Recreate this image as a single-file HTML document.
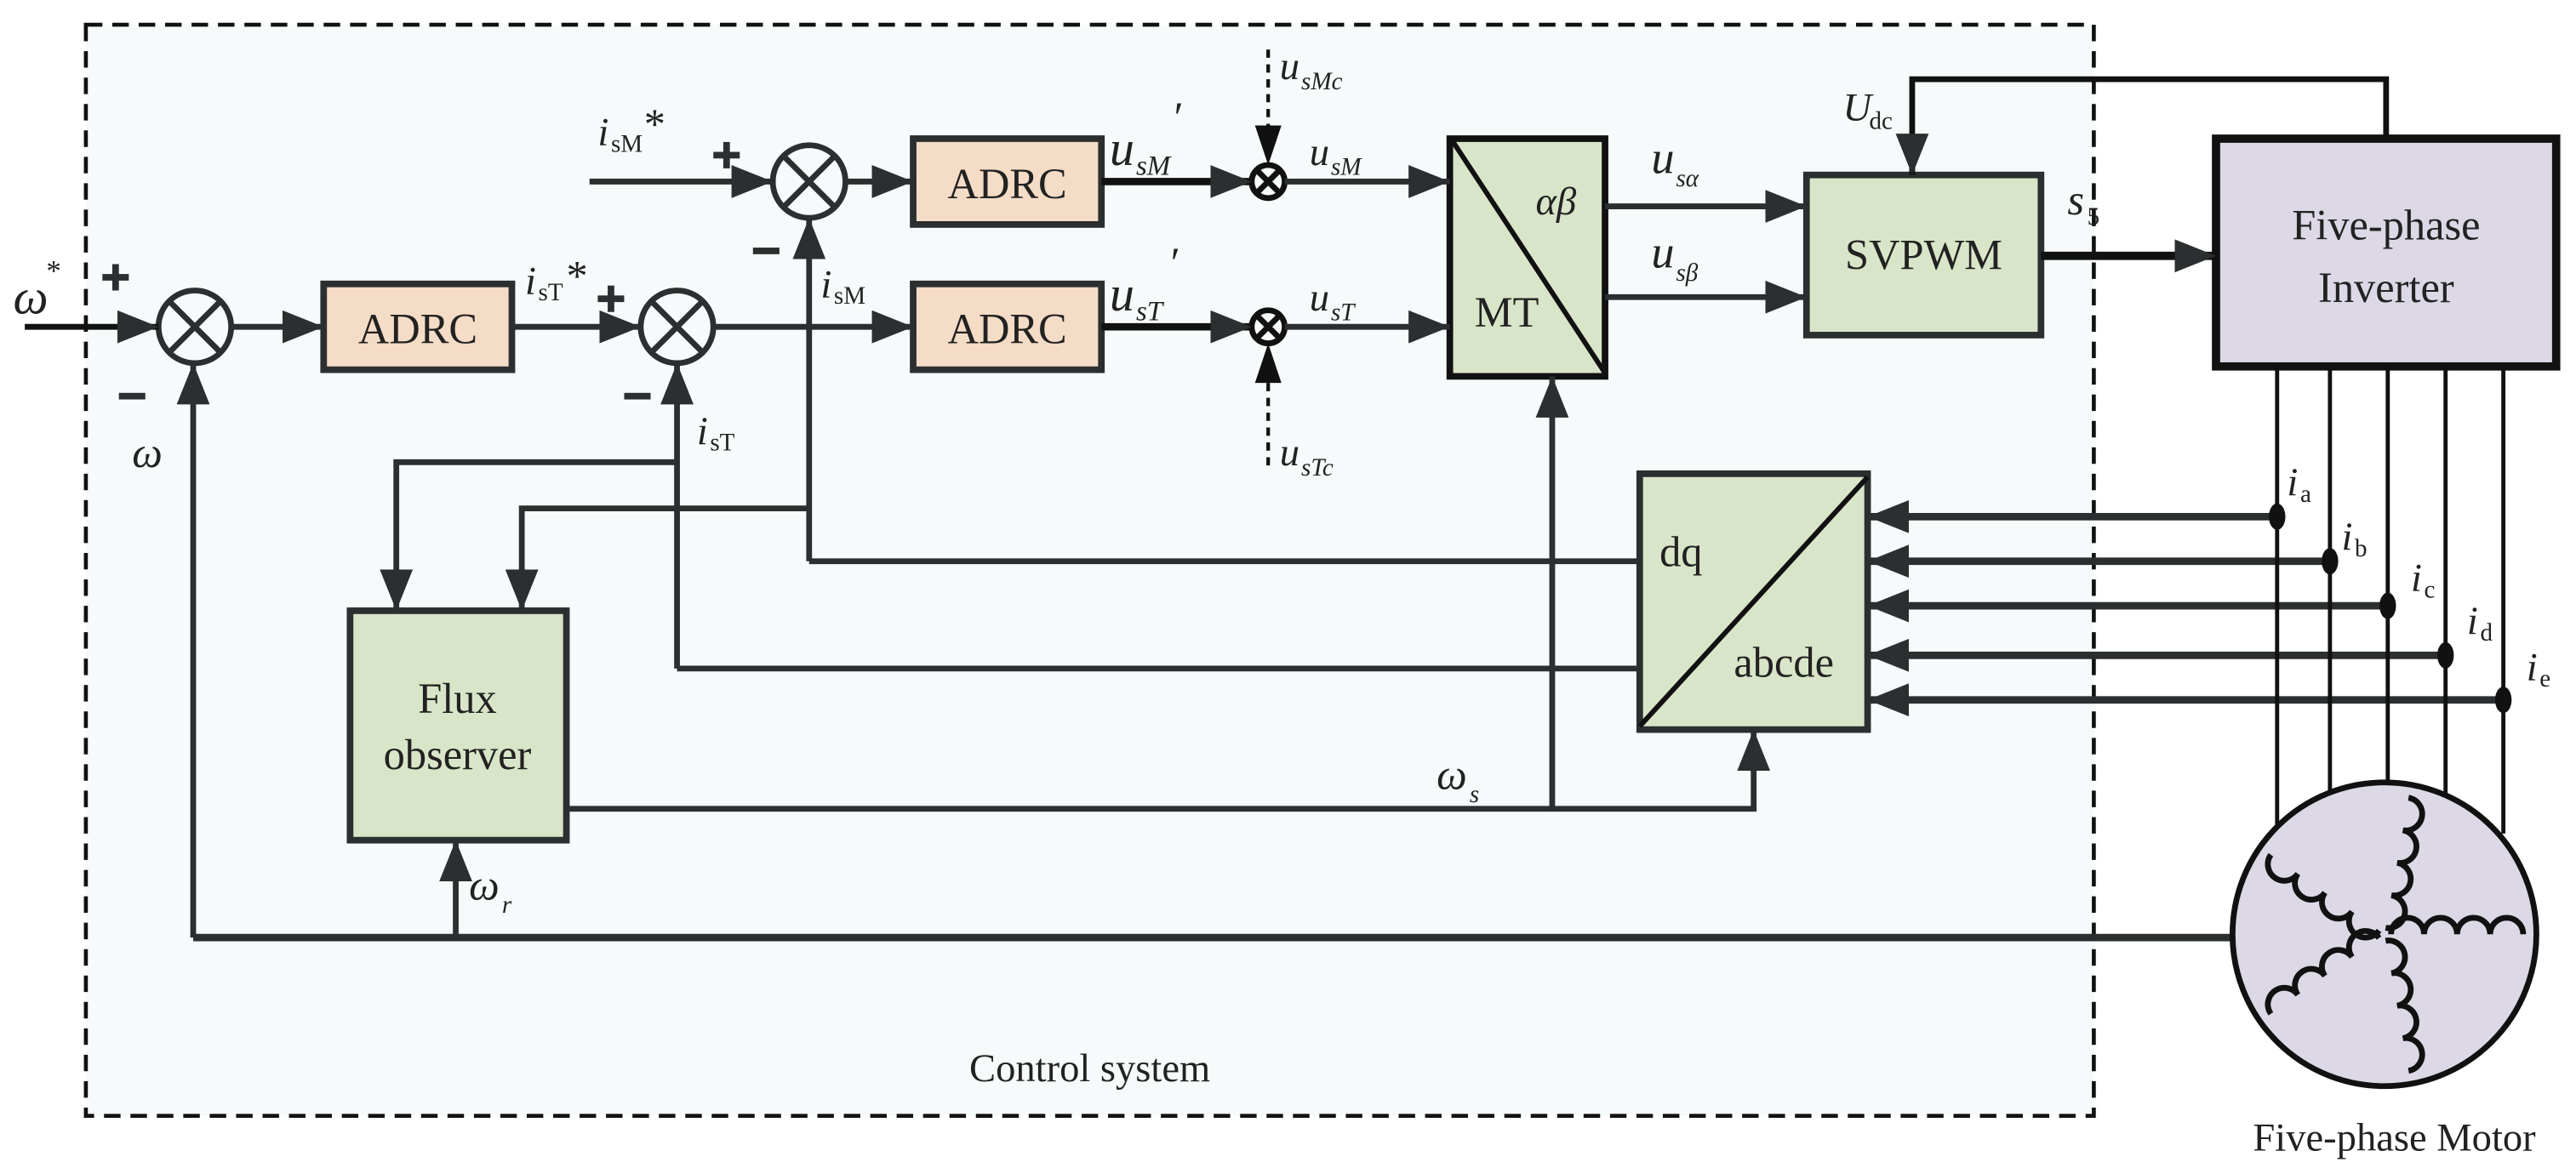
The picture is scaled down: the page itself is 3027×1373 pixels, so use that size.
<!DOCTYPE html>
<html><head><meta charset="utf-8"><style>
html,body{margin:0;padding:0;background:#fff}
svg{display:block}
</style></head><body>
<svg width="3027" height="1373" viewBox="0 0 1560 707.6" preserveAspectRatio="none" xmlns="http://www.w3.org/2000/svg" font-family="'Liberation Serif', 'DejaVu Serif', serif">
<defs>
<marker id="a" viewBox="0 0 20 16" refX="20" refY="8" markerWidth="25" markerHeight="20" markerUnits="userSpaceOnUse" orient="auto"><path d="M0,0L20,8L0,16z" fill="#2b2f30"/></marker>
</defs>
<style>
.l{stroke:#2b2f30;stroke-width:3.5;fill:none}
text{fill:#222;font-family:'Liberation Serif','DejaVu Serif',serif}
.it{font-style:italic}
</style>
<rect x="52" y="15" width="1216" height="661" fill="#f6fafb" stroke="#111" stroke-width="2.4" stroke-dasharray="10,6"/>
<g stroke="#2b2f30" stroke-width="3.5" fill="none">
<circle cx="118" cy="198" r="22"/><path d="M102.5,182.5L133.5,213.5M133.5,182.5L102.5,213.5"/>
<circle cx="410" cy="198" r="22"/><path d="M394.5,182.5L425.5,213.5M425.5,182.5L394.5,213.5"/>
<circle cx="490" cy="110" r="22"/><path d="M474.5,94.5L505.5,125.5M505.5,94.5L474.5,125.5"/>
<circle cx="768" cy="110" r="10" stroke="#111"/><path d="M761,103L775,117M775,103L761,117" stroke="#111"/>
<circle cx="768" cy="198" r="10" stroke="#111"/><path d="M761,191L775,205M775,191L761,205" stroke="#111"/>
</g>
<g stroke="#2b2f30" stroke-width="4">
<rect x="196" y="172" width="114" height="52" fill="#f5dcc6"/>
<rect x="553" y="84" width="114" height="52" fill="#f5dcc6"/>
<rect x="553" y="172" width="114" height="52" fill="#f5dcc6"/>
<rect x="878" y="84" width="94" height="144" fill="#d9e5c8" stroke="#111"/>
<rect x="1094" y="106" width="142" height="97" fill="#d9e5c8"/>
<rect x="212" y="370" width="131" height="139" fill="#d9e5c8"/>
<rect x="993" y="287" width="138" height="155" fill="#d9e5c8"/>
<rect x="1342" y="84" width="206" height="138" fill="#ddd8e6" stroke="#111" stroke-width="5"/>
</g>
<path d="M880,86L972,226M993,440L1131,289" stroke="#111" stroke-width="3"/>
<g class="l">
<path d="M15,198H96" marker-end="url(#a)" stroke="#111"/>
<path d="M140,198H196" marker-end="url(#a)"/>
<path d="M310,198H388" marker-end="url(#a)"/>
<path d="M432,198H553" marker-end="url(#a)"/>
<path d="M357,110H468" marker-end="url(#a)"/>
<path d="M512,110H553" marker-end="url(#a)"/>
<path d="M667,110H758" marker-end="url(#a)" stroke="#111" stroke-width="4.5"/>
<path d="M667,198H758" marker-end="url(#a)" stroke="#111" stroke-width="4.5"/>
<path d="M778,110H878" marker-end="url(#a)"/>
<path d="M778,198H878" marker-end="url(#a)"/>
<path d="M972,125H1094" marker-end="url(#a)"/>
<path d="M972,180H1094" marker-end="url(#a)"/>
<path d="M1236,155H1342" marker-end="url(#a)" stroke-width="5" stroke="#111"/>
<path d="M1445,84V48H1158V106" marker-end="url(#a)" stroke="#111"/>
<path d="M117,568V220" marker-end="url(#a)"/>
<path d="M1358,568H117" stroke-width="4.5"/>
<path d="M276,568V509" marker-end="url(#a)"/>
<path d="M410,405V220" marker-end="url(#a)"/>
<path d="M410,405H993"/>
<path d="M490,340V132" marker-end="url(#a)"/>
<path d="M490,340H993"/>
<path d="M410,280H240V370" marker-end="url(#a)"/>
<path d="M490,308H316V370" marker-end="url(#a)"/>
<path d="M343,490H1062V442" marker-end="url(#a)"/>
<path d="M940,490V228" marker-end="url(#a)"/>
<path d="M1379,313H1131" marker-end="url(#a)" stroke-width="4.5"/>
<path d="M1411,340H1131" marker-end="url(#a)" stroke-width="4.5"/>
<path d="M1446,367H1131" marker-end="url(#a)" stroke-width="4.5"/>
<path d="M1481,397H1131" marker-end="url(#a)" stroke-width="4.5"/>
<path d="M1516,424H1131" marker-end="url(#a)" stroke-width="4.5"/>
</g>
<g stroke="#111" stroke-width="2.2" stroke-dasharray="5,4" fill="none">
<path d="M768,30V78"/><path d="M768,282V232"/>
</g>
<path d="M760,76L776,76L768,100z M760,232L776,232L768,208z" fill="#111"/>
<g stroke="#111" stroke-width="2.5">
<path d="M1379,222V505M1411,222V485M1446,222V477M1481,222V485M1516,222V505"/>
</g>
<g fill="#111"><ellipse cx="1379" cy="313" rx="5" ry="8"/><ellipse cx="1411" cy="340" rx="5" ry="8"/><ellipse cx="1446" cy="367" rx="5" ry="8"/><ellipse cx="1481" cy="397" rx="5" ry="8"/><ellipse cx="1516" cy="424" rx="5" ry="8"/></g>
<circle cx="1444" cy="566" r="92" fill="#ddd8e6" stroke="#111" stroke-width="3.5"/>
<g stroke="#111" stroke-width="3.5" fill="none" transform="translate(1444,566)">
<g><path d="M4,0a10,10 0 0 1 20,0a10,10 0 0 1 20,0a10,10 0 0 1 20,0a10,10 0 0 1 20,0"/></g>
<g transform="rotate(80)"><path d="M4,0a10,10 0 0 1 20,0a10,10 0 0 1 20,0a10,10 0 0 1 20,0a10,10 0 0 1 20,0"/></g>
<g transform="rotate(-80)"><path d="M4,0a10,10 0 0 0 20,0a10,10 0 0 0 20,0a10,10 0 0 0 20,0a10,10 0 0 0 20,0"/></g>
<g transform="rotate(-145)"><path d="M4,0a10,10 0 0 1 20,0a10,10 0 0 1 20,0a10,10 0 0 1 20,0a10,10 0 0 1 20,0"/></g>
<g transform="rotate(145)"><path d="M4,0a10,10 0 0 0 20,0a10,10 0 0 0 20,0a10,10 0 0 0 20,0a10,10 0 0 0 20,0"/></g>
</g>
<g fill="#2b2f30">
<rect x="62" y="166" width="16" height="4"/><rect x="68" y="160" width="4" height="16"/>
<rect x="72" y="238" width="16" height="4"/>
<rect x="362" y="179" width="16" height="4"/><rect x="368" y="173" width="4" height="16"/>
<rect x="378" y="238" width="16" height="4"/>
<rect x="432" y="92" width="16" height="4"/><rect x="438" y="86" width="4" height="16"/>
<rect x="456" y="150" width="16" height="4"/>
</g>
<g font-size="26">
<text x="253" y="208" text-anchor="middle">ADRC</text>
<text x="610" y="120" text-anchor="middle">ADRC</text>
<text x="610" y="208" text-anchor="middle">ADRC</text>
<text x="1165" y="163" text-anchor="middle">SVPWM</text>
<text x="893" y="198">MT</text>
<text x="1445" y="145" text-anchor="middle">Five-phase</text>
<text x="1445" y="183" text-anchor="middle">Inverter</text>
<text x="277" y="432" text-anchor="middle">Flux</text>
<text x="277" y="466" text-anchor="middle">observer</text>
<text x="1005" y="343">dq</text>
<text x="1050" y="410">abcde</text>
</g>
<g font-size="24">
<text x="660" y="655" text-anchor="middle">Control system</text>
<text x="1450" y="697" text-anchor="middle">Five-phase Motor</text>
</g>
<g font-size="24">
<text x="930" y="130" class="it">αβ</text>
<text x="8" y="190" class="it" font-size="30">ω</text><text x="28" y="170" font-size="18">*</text>
<text x="80" y="283" class="it" font-size="26">ω</text>
<text x="870" y="478" class="it" font-size="26">ω</text><text x="890" y="486" font-size="15" class="it">s</text>
<text x="284" y="545" class="it" font-size="26">ω</text><text x="304" y="553" font-size="15" class="it">r</text>
<text x="362" y="88" class="it">i</text><text x="370" y="92" font-size="15">sM</text><text x="390" y="84" font-size="26">*</text>
<text x="318" y="178" class="it">i</text><text x="326" y="182" font-size="15">sT</text><text x="343" y="176" font-size="26">*</text>
<text x="497" y="180" class="it">i</text><text x="505" y="184" font-size="15">sM</text>
<text x="422" y="269" class="it">i</text><text x="430" y="273" font-size="15">sT</text>
<text x="672" y="100" font-size="30" class="it">u</text><text x="688" y="106" font-size="17" class="it">sM</text><text x="711" y="80" font-size="26">′</text>
<text x="672" y="188" font-size="30" class="it">u</text><text x="688" y="194" font-size="17" class="it">sT</text><text x="709" y="168" font-size="26">′</text>
<text x="775" y="48" class="it">u</text><text x="788" y="54" font-size="15" class="it">sMc</text>
<text x="775" y="282" class="it">u</text><text x="788" y="288" font-size="15" class="it">sTc</text>
<text x="793" y="100" class="it">u</text><text x="806" y="106" font-size="15" class="it">sM</text>
<text x="793" y="188" class="it">u</text><text x="806" y="194" font-size="15" class="it">sT</text>
<text x="1000" y="105" class="it" font-size="28">u</text><text x="1015" y="113" font-size="15" class="it">sα</text>
<text x="1000" y="162" class="it" font-size="28">u</text><text x="1015" y="170" font-size="15" class="it">sβ</text>
<text x="1116" y="73" class="it">U</text><text x="1132" y="78" font-size="15">dc</text>
<text x="1252" y="130" class="it" font-size="26">s</text><text x="1264" y="136" font-size="15">5</text>
<text x="1385" y="300" class="it">i</text><text x="1393" y="304" font-size="15">a</text>
<text x="1418" y="333" class="it">i</text><text x="1426" y="337" font-size="15">b</text>
<text x="1460" y="358" class="it">i</text><text x="1468" y="362" font-size="15">c</text>
<text x="1494" y="384" class="it">i</text><text x="1502" y="388" font-size="15">d</text>
<text x="1530" y="412" class="it">i</text><text x="1538" y="416" font-size="15">e</text>
</g>
</svg>
</body></html>
